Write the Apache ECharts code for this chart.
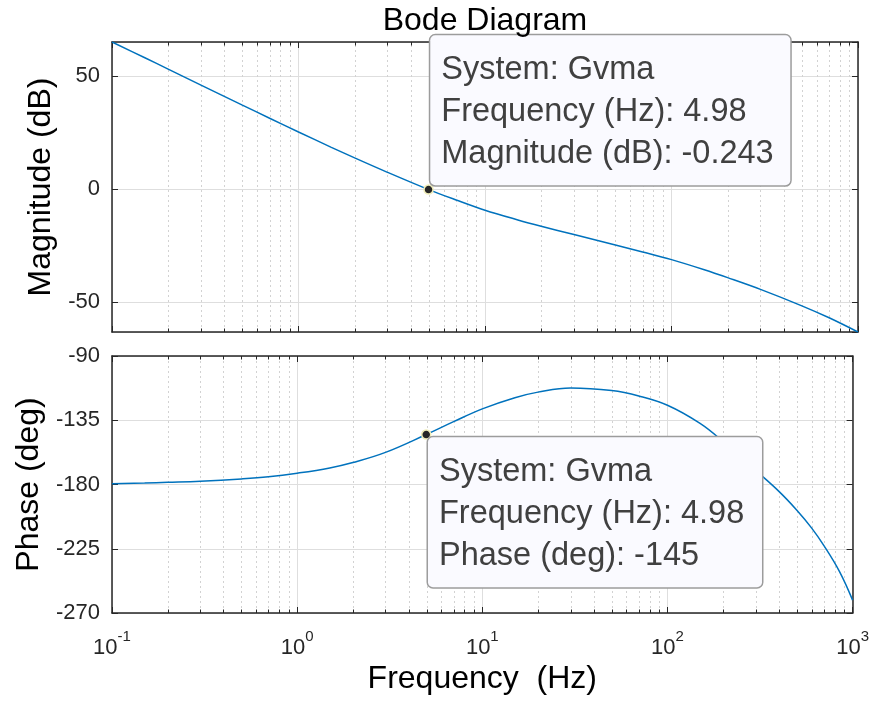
<!DOCTYPE html>
<html>
<head>
<meta charset="utf-8">
<script src="https://cdn.jsdelivr.net/npm/echarts@6/dist/echarts.min.js"></script>
<style>
html,body{margin:0;padding:0;background:#fff;}
#chart{width:872px;height:701px;}
</style>
</head>
<body>
<div id="chart"></div>
<script>
// ---- data ----
const magFreq = [0.1, 0.15, 0.2, 0.3, 0.5, 0.7, 1, 1.5, 2, 3, 4.98, 7, 10, 15, 20, 30, 50, 70, 100, 150, 200, 300, 500, 700, 1000];
const magDb   = [65.2, 58.2, 53.2, 46.1, 37.2, 31.4, 25.3, 18.5, 13.8, 7.4, -0.243, -4.85, -9.4, -13.7, -16.5, -20.2, -24.8, -27.9, -31.3, -35.8, -39.3, -44.5, -51.8, -57.1, -63.4];
const phFreq  = [0.1, 0.15, 0.2, 0.3, 0.5, 0.7, 1, 1.5, 2, 3, 4.98, 7, 10, 15, 20, 30, 50, 70, 100, 150, 200, 300, 400, 500, 600, 700, 850, 1000];
const phDeg   = [-179.4, -179.0, -178.5, -177.7, -176.1, -174.6, -172.1, -168.4, -164.6, -157.5, -145, -136, -127, -119.2, -115.3, -112.4, -114.2, -118.0, -124.5, -137.2, -150.0, -170.2, -184.8, -198.0, -210.4, -222.8, -241.0, -261];
const minorFreqs = [0.2,0.3,0.4,0.5,0.6,0.7,0.8,0.9, 2,3,4,5,6,7,8,9, 20,30,40,50,60,70,80,90, 200,300,400,500,600,700,800,900];
const freqRange = [0.1, 1000];
const magRange = [-63.4, 65.2];
const phRange = [-270, -90];
const phTickStep = 45;
const tipFreq = 4.98, tipMag = -0.243, tipPhase = -145;
const systemName = 'Gvma';

const FONT = "'Liberation Sans', Arial, Helvetica, sans-serif";
const TXT = '#262626';
const LINE = '#0072BD';

const chart = echarts.init(document.getElementById('chart'), null, {renderer:'canvas'});

function pairs(xs, ys){ return xs.map((x,i)=>[x, ys[i]]); }

function minorRender(params, api){
  const f = api.value(0);
  const lo = api.coord([f, api.value(1)]);
  const hi = api.coord([f, api.value(2)]);
  const x = Math.round(lo[0]) + 0.5;
  return {type:'group', children:[
    {type:'line', shape:{x1:x,y1:lo[1],x2:x,y2:hi[1]}, style:{stroke:'#d2d2d2', lineWidth:1, lineDash:[2,3]}},
    {type:'line', shape:{x1:x,y1:lo[1],x2:x,y2:lo[1]-3.5}, style:{stroke:TXT, lineWidth:1}},
    {type:'line', shape:{x1:x,y1:hi[1],x2:x,y2:hi[1]+3.5}, style:{stroke:TXT, lineWidth:1}}
  ]};
}

function xAxisCommon(gridIndex, pos, labels){
  return {
    type:'log', logBase:10, gridIndex, position:pos, min:freqRange[0], max:freqRange[1],
    axisLine:{show:true, onZero:false, lineStyle:{color:TXT, width:1.5}},
    axisTick:{show:true, inside:true, length:6, lineStyle:{color:TXT, width:1}},
    splitLine:{show: pos==='bottom', lineStyle:{color:'#dedede', width:1}},
    minorTick:{show:false}, minorSplitLine:{show:false},
    axisLabel: labels ? {
      show:true, margin:16, fontFamily:FONT, color:TXT,
      formatter: v => '{b|10}{s|' + Math.round(Math.log10(v)) + '}',
      rich:{
        b:{fontSize:22, fontFamily:FONT, color:TXT, lineHeight:30, verticalAlign:'bottom'},
        s:{fontSize:15, fontFamily:FONT, color:TXT, lineHeight:15, verticalAlign:'top'}
      }
    } : {show:false}
  };
}

function yAxisCommon(gridIndex, pos, labels, range, hideEnds, extra){
  return Object.assign({
    type:'value', gridIndex, position:pos, min:range[0], max:range[1],
    axisLine:{show:true, onZero:false, lineStyle:{color:TXT, width:1.5}},
    axisTick:{show:true, inside:true, length:6, lineStyle:{color:TXT, width:1}},
    splitLine:{show: pos==='left', lineStyle:{color:'#dedede', width:1}},
    axisLabel: labels ? {show:true, margin:12, fontSize:22, fontFamily:FONT, color:TXT,
      showMinLabel:!hideEnds, showMaxLabel:!hideEnds} : {show:false}
  }, extra||{});
}

const tipBox = {
  backgroundColor:'#fafaff', borderColor:'#9c9c9c', borderWidth:1.5, borderRadius:5,
  color:'#404040', fontFamily:FONT, fontSize:32.5, lineHeight:42
};

const option = {
  animation:false,
  backgroundColor:'#fff',
  title:{text:'Bode Diagram', left:480, top:0, textAlign:'center',
    textStyle:{fontFamily:FONT, fontSize:32, fontWeight:'normal', color:'#000'}},
  grid:[
    {left:112, top:42, width:746, height:290},
    {left:112, top:356, width:746, height:257}
  ],
  xAxis:[
    xAxisCommon(0,'bottom',false),
    xAxisCommon(0,'top',false),
    Object.assign(xAxisCommon(1,'bottom',true), {name:'Frequency  (Hz)', nameLocation:'middle', nameGap:50,
      nameTextStyle:{fontFamily:FONT, fontSize:32, color:'#000'}}),
    xAxisCommon(1,'top',false)
  ],
  yAxis:[
    yAxisCommon(0,'left',true,magRange,true,{splitNumber:3, name:'Magnitude (dB)', nameLocation:'middle', nameGap:55,
      nameTextStyle:{fontFamily:FONT, fontSize:32, color:'#000'}}),
    yAxisCommon(0,'right',false,magRange,true,{splitNumber:3}),
    yAxisCommon(1,'left',true,phRange,false,{interval:phTickStep, name:'Phase (deg)', nameLocation:'middle', nameGap:66,
      nameTextStyle:{fontFamily:FONT, fontSize:32, color:'#000'}}),
    yAxisCommon(1,'right',false,phRange,false,{interval:phTickStep})
  ],
  series:[
    {type:'custom', xAxisIndex:0, yAxisIndex:0, z:1, silent:true, renderItem:minorRender,
      data:minorFreqs.map(f=>[f, magRange[0], magRange[1]])},
    {type:'custom', xAxisIndex:2, yAxisIndex:2, z:1, silent:true, renderItem:minorRender,
      data:minorFreqs.map(f=>[f, phRange[0], phRange[1]])},
    {type:'line', xAxisIndex:0, yAxisIndex:0, z:3, smooth:0.35, showSymbol:false, clip:true,
      lineStyle:{color:LINE, width:1.5}, data:pairs(magFreq, magDb),
      markPoint:{
        symbol:'circle', symbolSize:9, silent:true,
        itemStyle:{color:'#262626', borderColor:'#f0edb8', borderWidth:1.5},
        label:{show:true, position:[7,-149], align:'left', verticalAlign:'top',
          formatter: () => 'System: ' + systemName + '\nFrequency (Hz): ' + tipFreq + '\nMagnitude (dB): ' + tipMag,
          width:338, padding:[14,11,10,11], ...tipBox},
        data:[{coord:[tipFreq, tipMag]}]
      }},
    {type:'line', xAxisIndex:2, yAxisIndex:2, z:3, smooth:0.4, showSymbol:false, clip:true,
      lineStyle:{color:LINE, width:1.5}, data:pairs(phFreq, phDeg),
      markPoint:{
        symbol:'circle', symbolSize:9, silent:true,
        itemStyle:{color:'#262626', borderColor:'#f0edb8', borderWidth:1.5},
        label:{show:true, position:[7,8], align:'left', verticalAlign:'top',
          formatter: () => 'System: ' + systemName + '\nFrequency (Hz): ' + tipFreq + '\nPhase (deg): ' + tipPhase,
          width:312, padding:[14,11,10,11], ...tipBox},
        data:[{coord:[tipFreq, tipPhase]}]
      }}
  ]
};
chart.setOption(option);
</script>
</body>
</html>
